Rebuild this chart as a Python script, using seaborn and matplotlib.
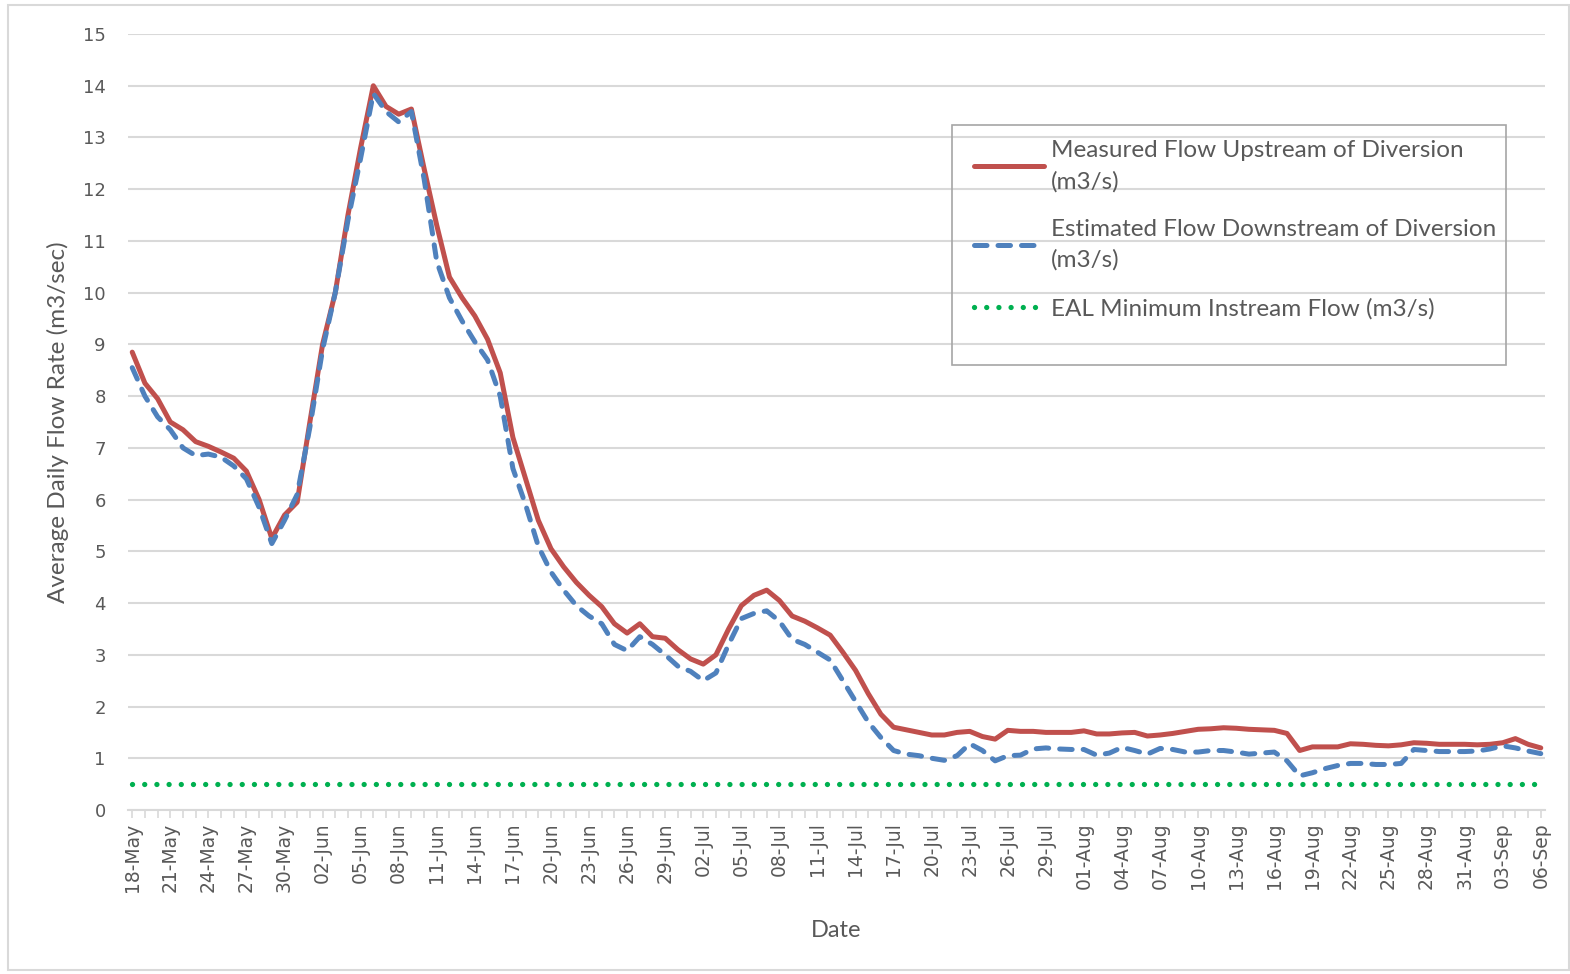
import numpy as np
import pandas as pd
import matplotlib
matplotlib.use("Agg")
import matplotlib.pyplot as plt
import matplotlib.dates as mdates
from matplotlib.patches import Rectangle
import seaborn as sns

# daily values, 18-May to 06-Sep
start_date = "2019-05-18"
end_date = "2019-09-06"

measured = [8.85, 8.25, 7.95, 7.5, 7.35, 7.12, 7.03, 6.92, 6.8, 6.55,
            6.0, 5.25, 5.7, 5.95, 7.5, 9.0, 10.0, 11.5, 12.8, 14.0,
            13.6, 13.45, 13.55, 12.4, 11.3, 10.3, 9.9, 9.55, 9.1, 8.45,
            7.2, 6.4, 5.6, 5.05, 4.7, 4.4, 4.15, 3.93, 3.6, 3.42,
            3.6, 3.35, 3.32, 3.1, 2.92, 2.82, 3.0, 3.5, 3.95, 4.15,
            4.25, 4.05, 3.75, 3.65, 3.52, 3.38, 3.05, 2.7, 2.25, 1.85,
            1.6, 1.55, 1.5, 1.45, 1.45, 1.5, 1.52, 1.42, 1.37, 1.54,
            1.52, 1.52, 1.5, 1.5, 1.5, 1.53, 1.47, 1.47, 1.49, 1.5,
            1.43, 1.45, 1.48, 1.52, 1.56, 1.57, 1.59, 1.58, 1.56, 1.55,
            1.54, 1.48, 1.15, 1.22, 1.22, 1.22, 1.28, 1.27, 1.25, 1.24,
            1.26, 1.3, 1.29, 1.27, 1.27, 1.27, 1.26, 1.27, 1.3, 1.38,
            1.27, 1.2]

estimated = [8.55, 8.0, 7.6, 7.35, 7.0, 6.85, 6.88, 6.82, 6.65, 6.4,
             5.85, 5.15, 5.6, 6.1, 7.4, 8.9, 10.0, 11.4, 12.6, 13.85,
             13.5, 13.3, 13.5, 12.2, 10.6, 9.9, 9.45, 9.05, 8.7, 8.0,
             6.6, 5.9, 5.1, 4.6, 4.25, 3.95, 3.75, 3.6, 3.2, 3.08,
             3.35, 3.2, 3.0, 2.78, 2.68, 2.5, 2.65, 3.2, 3.7, 3.8,
             3.85, 3.65, 3.3, 3.2, 3.05, 2.9, 2.5, 2.1, 1.7, 1.4,
             1.15, 1.08, 1.05, 1.0, 0.96, 1.05, 1.28, 1.15, 0.95, 1.05,
             1.06, 1.18, 1.2, 1.18, 1.17, 1.17, 1.06, 1.1, 1.21, 1.15,
             1.08, 1.19, 1.17, 1.12, 1.12, 1.15, 1.15, 1.12, 1.08, 1.1,
             1.12, 0.95, 0.66, 0.72, 0.8, 0.86, 0.9, 0.9, 0.88, 0.88,
             0.9, 1.17, 1.15, 1.13, 1.13, 1.13, 1.14, 1.18, 1.24, 1.2,
             1.14, 1.09]

min_flow = 0.5

labels = ["Measured Flow Upstream of Diversion\n(m3/s)",
          "Estimated Flow Downstream of Diversion\n(m3/s)",
          "EAL Minimum Instream Flow (m3/s)"]

dates = pd.date_range(start_date, end_date, freq="D")
df = pd.DataFrame({"date": dates, "measured": measured,
                   "estimated": estimated, "minimum": min_flow})

sns.set_style("white")
plt.rcParams["font.family"] = ["DejaVu Sans"]

fig = plt.figure(figsize=(15.7, 9.74), dpi=100)
ax = fig.add_axes([128 / 1570, 1 - 810 / 974, (1545 - 128) / 1570, (810 - 34) / 974])

grey = "#d9d9d9"
text_col = "#595959"

sns.lineplot(data=df, x="date", y="measured", ax=ax, color="#c0504d",
             linewidth=3.6, label=labels[0])
sns.lineplot(data=df, x="date", y="estimated", ax=ax, color="#4f81bd",
             linewidth=3.6, label=labels[1])
sns.lineplot(data=df, x="date", y="minimum", ax=ax, color="#00b050",
             linewidth=3.8, label=labels[2])

lines = ax.get_lines()
lines[0].set_solid_joinstyle("round")
lines[1].set_linestyle((0, (2.5, 2.2)))
lines[1].set_dash_capstyle("round")
lines[1].set_dash_joinstyle("round")
lines[2].set_linestyle((0, (0.01, 2.3)))
lines[2].set_dash_capstyle("round")

ax.set_ylim(0, 15)
ax.set_yticks(range(0, 16))
pad_days = pd.Timedelta(hours=8)
ax.set_xlim(dates[0] - pad_days, dates[-1] + pad_days)

ax.xaxis.set_major_locator(matplotlib.ticker.FixedLocator(mdates.date2num(dates[::3])))
ax.xaxis.set_minor_locator(matplotlib.ticker.FixedLocator(mdates.date2num(dates)))
ax.xaxis.set_major_formatter(mdates.DateFormatter("%d-%b"))
plt.setp(ax.get_xticklabels(), rotation=90)

ax.grid(axis="y", color=grey, linewidth=1.5)
ax.grid(axis="x", visible=False)
for side in ["left", "right", "top"]:
    ax.spines[side].set_visible(False)
ax.spines["bottom"].set_color(grey)
ax.spines["bottom"].set_linewidth(1.5)

ax.tick_params(axis="y", length=0, pad=16, labelsize=13, labelcolor=text_col)
ax.tick_params(axis="x", which="both", direction="out", length=6, width=1.2,
               color=grey, pad=3, labelsize=13.5, labelcolor=text_col, bottom=True)

ax.set_ylabel("Average Daily Flow Rate (m3/sec)", fontsize=17.5, color=text_col,
              family=["Lato"], labelpad=10)
ax.set_xlabel("Date", fontsize=17, color=text_col, family=["Lato"], labelpad=20)

leg = ax.legend(loc="upper left", bbox_to_anchor=(974 / 1570, 1 - 140 / 974),
                bbox_transform=fig.transFigure, borderaxespad=0,
                frameon=False, handlelength=2.9,
                labelspacing=1.1, borderpad=0, handletextpad=0.25,
                prop={"family": "Lato", "size": 17.5})
for t in leg.get_texts():
    t.set_color(text_col)
    t.set_linespacing(1.55)

# legend box drawn like the Excel plot area frame
fig.patches.append(Rectangle((952 / 1570, 1 - 365 / 974), 554 / 1570, 240 / 974,
                             transform=fig.transFigure, fill=False,
                             edgecolor="#a6a6a6", linewidth=1.2))

fig.patches.append(Rectangle((8 / 1570, 4 / 974), 1 - 9 / 1570, 1 - 9 / 974,
                             transform=fig.transFigure, fill=False,
                             edgecolor=grey, linewidth=1.5))

fig.savefig("out.png", dpi=100, facecolor="white")
